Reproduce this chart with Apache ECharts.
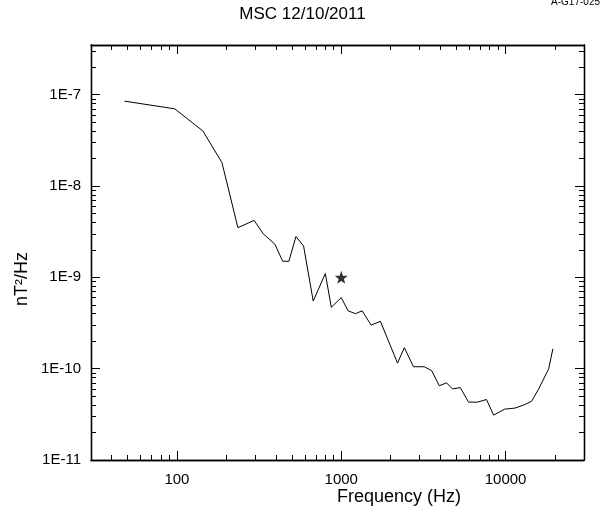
<!DOCTYPE html>
<html>
<head>
<meta charset="utf-8">
<script src="https://cdn.jsdelivr.net/npm/echarts@6/dist/echarts.min.js"></script>
<style>html,body{margin:0;padding:0;background:#fff}#chart{width:605px;height:518px}</style>
</head>
<body>
<div id="chart"></div>
<script>
var freq = [48, 97, 144, 188, 235, 295, 335, 395, 440, 480, 530, 590, 675, 800, 870, 1000, 1100, 1220, 1340, 1520, 1730, 1940, 2200, 2420, 2750, 3200, 3550, 3950, 4370, 4750, 5300, 5950, 6750, 7650, 8450, 9850, 11400, 12900, 14400, 15900, 18300, 19400];
var psd = [8.5e-8, 7e-8, 4e-8, 1.8e-8, 3.5e-9, 4.2e-9, 3e-9, 2.3e-9, 1.5e-9, 1.5e-9, 2.8e-9, 2.2e-9, 5.5e-10, 1.1e-9, 4.7e-10, 6e-10, 4.3e-10, 4e-10, 4.3e-10, 3e-10, 3.3e-10, 2e-10, 1.15e-10, 1.7e-10, 1.05e-10, 1.05e-10, 9.5e-11, 6.5e-11, 7e-11, 6e-11, 6.2e-11, 4.3e-11, 4.3e-11, 4.6e-11, 3.1e-11, 3.6e-11, 3.7e-11, 4e-11, 4.4e-11, 6e-11, 1e-10, 1.65e-10];
var marker = [[1000, 1e-9]];
var xMajor = [100, 1000, 10000];
var yMajor = [1e-11, 1e-10, 1e-9, 1e-8, 1e-7];

function minors(lo, hi) {
  var out = [];
  for (var d = lo; d <= hi; d *= 10) {
    for (var k = 2; k <= 9; k++) out.push(d * k);
  }
  return out;
}
var xMinor = minors(10, 10000).filter(function (v) { return v > 30 && v < 30000; });
var yMinor = minors(1e-11, 1e-7).filter(function (v) { return v < 3.5e-7; });

var line = { show: true, onZero: false, lineStyle: { color: '#000', width: 1.3 } };
function xAx(pos, ticks, len, labels) {
  return {
    type: 'log', min: 30, max: 30000, position: pos,
    axisLine: line, splitLine: { show: false },
    axisTick: { inside: true, length: len, customValues: ticks, lineStyle: { color: '#000' } },
    axisLabel: labels ? {
      customValues: xMajor, color: '#000', fontSize: 15, margin: 12, fontFamily: 'Liberation Sans',
      formatter: function (v) { return String(Math.round(v)); }
    } : { show: false }
  };
}
function yAx(pos, ticks, len, labels) {
  return {
    type: 'log', min: 1e-11, max: 3.5e-7, position: pos,
    axisLine: line, splitLine: { show: false },
    axisTick: { inside: true, length: len, customValues: ticks, lineStyle: { color: '#000' } },
    axisLabel: labels ? {
      customValues: yMajor, color: '#000', fontSize: 15, margin: 10, fontFamily: 'Liberation Sans',
      formatter: function (v) { return '1E' + Math.round(Math.log10(v)); }
    } : { show: false }
  };
}

var chart = echarts.init(document.getElementById('chart'));
chart.setOption({
  animation: false,
  grid: { left: 91, right: 21, top: 45, bottom: 58 },
  graphic: [
    { type: 'text', left: 'center', top: 6, style: { text: 'MSC 12/10/2011', font: '17px Liberation Sans', fill: '#000' } },
    { type: 'text', right: 5, top: -3, style: { text: 'A-G17-025', font: '10px Liberation Sans', fill: '#000' } },
    { type: 'text', left: 337, top: 488, style: { text: 'Frequency (Hz)', font: '18px Liberation Sans', fill: '#000', align: 'center' } },
    { type: 'text', left: 13, top: 252, rotation: Math.PI / 2, style: { text: 'nT²/Hz', font: '18px Liberation Sans', fill: '#000', align: 'center', verticalAlign: 'middle' } }
  ],
  xAxis: [
    xAx('bottom', xMajor, 9, true), xAx('bottom', xMinor, 5, false),
    xAx('top', xMajor, 9, false), xAx('top', xMinor, 5, false)
  ],
  yAxis: [
    yAx('left', yMajor, 9, true), yAx('left', yMinor, 5, false),
    yAx('right', yMajor, 9, false), yAx('right', yMinor, 5, false)
  ],
  series: [
    {
      type: 'line', data: freq.map(function (f, i) { return [f, psd[i]]; }),
      showSymbol: false, lineStyle: { color: '#000', width: 1 }
    },
    {
      type: 'scatter', data: marker, symbol: 'path://M0,-10L2.35,-3.24L9.51,-3.09L3.8,1.24L5.88,8.09L0,4L-5.88,8.09L-3.8,1.24L-9.51,-3.09L-2.35,-3.24Z',
      symbolSize: 13, itemStyle: { color: '#000' }
    }
  ]
});
</script>
</body>
</html>
